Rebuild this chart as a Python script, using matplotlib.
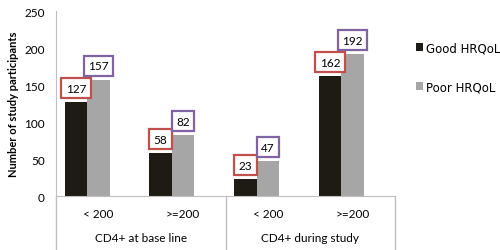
import matplotlib.pyplot as plt
import numpy as np

plt.rcParams['font.family'] = ['Lato', 'DejaVu Sans']

subgroups = ['< 200', '>=200', '< 200', '>=200']
groups = ['CD4+ at base line', 'CD4+ during study']
good = [127, 58, 23, 162]
poor = [157, 82, 47, 192]
extra = [0, 0, 0, 0]  # empty third series in the original sheet

fig = plt.figure(figsize=(5, 2.51), dpi=100)
ax = fig.add_axes([0.112, 0.215, 0.678, 0.737])

x = np.arange(len(subgroups))
w = 0.266
b1 = ax.bar(x - w, good, w, color='#1e1b14', label='Good HRQoL')
b2 = ax.bar(x, poor, w, color='#a6a6a6', label='Poor HRQoL')
ax.bar(x + w, extra, w, color='#9bbb59')

for bars, vals, ec in [(b1, good, '#c0504d'), (b2, poor, '#8064a2')]:
    for r, v in zip(bars, vals):
        ax.annotate(str(v), (r.get_x() + r.get_width() / 2, v),
                    xytext=(0, 10), textcoords='offset points',
                    ha='center', va='center', fontsize=8.5,
                    bbox=dict(boxstyle='square,pad=0.38', fc='white', ec=ec, lw=1.6))

ax.set_xlim(-0.5, 3.5)
ax.set_ylim(0, 250)
ax.set_yticks([0, 50, 100, 150, 200, 250])
ax.tick_params(axis='y', length=0, labelsize=8.5, pad=8)
ax.set_xticks([])
for s in ['top', 'right']:
    ax.spines[s].set_visible(False)
ax.spines['left'].set_color('#bfbfbf')
ax.spines['bottom'].set_color('#bfbfbf')
ax.spines['left'].set_bounds(0, 250)

ax.set_ylabel('Number of study participants', fontsize=8, fontweight='bold')

# category labels under the axis
tr = ax.get_xaxis_transform()
for xi, lab in zip(x, subgroups):
    ax.text(xi, -0.095, lab, transform=tr, ha='center', va='center', fontsize=8.5)
for gi, lab in enumerate(groups):
    ax.text(gi * 2 + 0.5, -0.225, lab, transform=tr, ha='center', va='center', fontsize=8.5)
for xs in [-0.5, 1.5, 3.5]:
    ax.plot([xs, xs], [0, -0.3], transform=tr, color='#bfbfbf', lw=1, clip_on=False)

ax.legend(loc='upper left', bbox_to_anchor=(1.03, 0.895), frameon=False,
          prop={'family': 'DejaVu Sans', 'size': 8.5}, handlelength=0.6,
          handleheight=0.6, handletextpad=0.3, labelspacing=2.2)

fig.savefig('out.png', dpi=100)
